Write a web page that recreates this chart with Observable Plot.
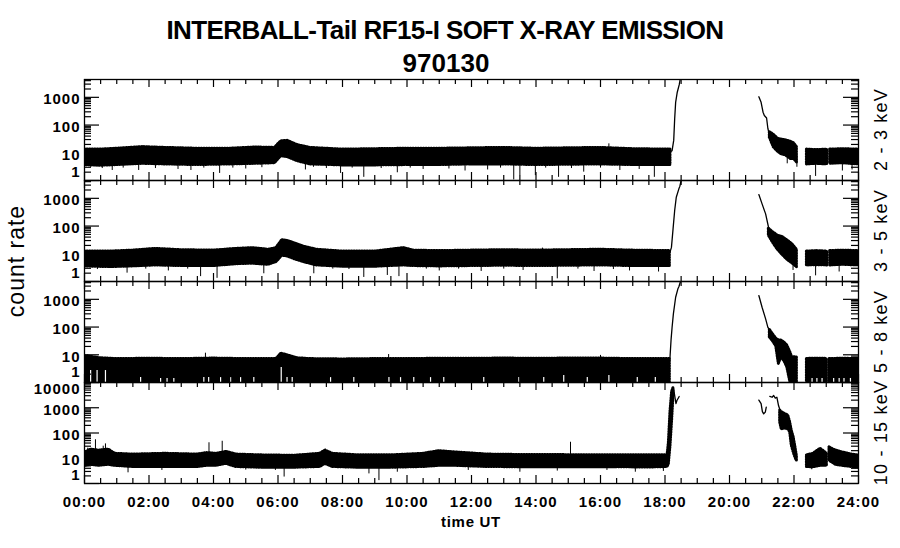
<!DOCTYPE html>
<html><head><meta charset="utf-8">
<script src="https://cdn.jsdelivr.net/npm/d3@7"></script>
<script src="https://cdn.jsdelivr.net/npm/@observablehq/plot@0.6"></script>
<style>
html,body{margin:0;padding:0;background:#fff;}
#chart{position:relative;width:900px;height:548px;overflow:hidden;background:#fff;}
#chart svg{position:absolute;left:0;top:0;}
#chart text{letter-spacing:1px;}
</style></head>
<body><div id="chart"></div>
<script>
// ---------- text ----------
const titleLines = ["INTERBALL-Tail RF15-I SOFT X-RAY EMISSION", "970130"];
const yTitle = "count rate";
const xTitle = "time UT";
const channels = ["2 - 3 keV", "3 - 5 keV", "5 - 8 keV", "10 - 15 keV"];

// ---------- axes ----------
const hours = [0, 2, 4, 6, 8, 10, 12, 14, 16, 18, 20, 22, 24];
const hourLabels = ["00:00","02:00","04:00","06:00","08:00","10:00","12:00","14:00","16:00","18:00","20:00","22:00","24:00"];
const yTop = [4400, 4400, 4400, 10000];
const yMajors = [[1, 10, 100, 1000], [1, 10, 100, 1000], [1, 10, 100, 1000], [1, 10, 100, 1000, 10000]];
const yLabels = [[10, 100, 1000], [10, 100, 1000], [10, 100, 1000], [10, 100, 1000]];

// ---------- data: noise band segments [hour, low, high] ----------
const band1 = [
 [[0,3.6,13],[0.5,3.4,13],[1.0,3.6,14],[1.8,4.0,16],[2.5,3.8,15],[3.5,3.6,14],[4.5,3.8,14],[5.3,4.0,15.5],[5.9,4.2,15],[6.1,7.5,26],[6.3,7.0,27],[6.6,5.0,19],[7.0,3.8,15],[8.0,3.5,13],[9.0,3.5,13.5],[10.0,3.6,14],[11.0,3.6,14],[12.0,3.8,14.5],[13.0,3.8,15],[14.0,3.6,14],[15.0,3.7,14.5],[16.0,3.8,15],[17.0,3.6,13.5],[18.17,3.6,13]],
 [[21.25,35,55],[21.37,16,45],[21.5,11,32],[21.6,9,30],[21.75,8,28],[21.9,6,25],[22.0,6,22],[22.09,4.5,16]],
 [[22.4,3.8,13],[22.7,4,12.5],[23.03,3.8,13]],
 [[23.12,4,13],[23.5,4.2,13.5],[24,3.8,13]]
];
const band2 = [
 [[0,3.5,12],[0.8,3.3,12],[1.5,3.5,13],[2.2,3.8,15],[3.0,3.6,13.5],[4.0,3.6,13],[4.7,4.2,15],[5.2,4.4,16],[5.7,4.0,14],[5.95,5,16],[6.13,8.5,31],[6.3,8,29],[6.5,6.5,24],[6.8,5,18],[7.2,3.8,14],[8.0,3.4,12],[9.0,3.4,12],[9.9,3.8,16],[10.2,3.6,13],[11.0,3.5,12.5],[12.0,3.6,13],[13.0,3.7,13.5],[14.0,3.6,13],[15.0,3.7,13.5],[16.0,3.8,14],[17.0,3.6,13],[18.15,3.6,12.5]],
 [[21.22,45,80],[21.35,25,60],[21.5,14,45],[21.65,9,40],[21.8,6,30],[21.95,4.5,22],[22.09,3.3,14]],
 [[22.4,3.8,12],[22.7,3.9,12.5],[23.03,3.8,12]],
 [[23.12,3.8,12.5],[23.5,4,13],[24,3.8,12.5]]
];
const band3 = [
 [[0,1,9],[0.5,1,7.5],[1,1,7],[2,1,7.2],[3,1,7],[4,1,7.3],[5,1,7],[5.95,1,7],[6.1,1,11],[6.3,1,9.5],[6.6,1,7.5],[7,1,7],[8,1,6.8],[9,1,7],[10,1,7],[11,1,7.2],[12,1,7.2],[13,1,7.3],[14,1,7.2],[15,1,7.3],[16,1,7.3],[17,1,7],[18.15,1,7]],
 [[21.25,43,79],[21.37,28,50],[21.45,20,38],[21.53,4.7,33],[21.6,8,33],[21.7,6,28],[21.79,3.6,21.6],[21.89,1,12],[21.94,1,8.2],[22.09,1,8]],
 [[22.4,1,7.1],[22.7,1,7.2],[23.02,1,7.1]],
 [[23.1,1,7],[23.5,1,7.2],[24,1,7]]
];
const band4 = [
 [[0,5,16],[0.2,5.5,22],[0.45,5,20],[0.75,5.5,22],[0.95,5,15],[1.5,4.5,14],[2.5,4.5,15],[3.5,4.5,14],[3.8,5,16],[4.1,5,15],[4.4,6,18],[4.7,4.5,14],[5.5,4.2,13],[6.5,4.2,12.5],[7.3,4.5,15],[7.47,6,20],[7.7,4.5,15],[8.5,4.2,13],[9.5,4.2,13],[10.5,4.5,15],[11.0,5,19],[11.5,5,17],[12.5,4.5,14],[13.5,4.4,13.5],[14.5,4.4,13.5],[15.5,4.4,13],[16.5,4.4,13],[17.5,4.3,13],[18.08,4.5,13],[18.12,6,40],[18.17,30,700],[18.22,300,4200],[18.26,2500,5900]],
 [[21.57,270,780],[21.62,140,670],[21.72,150,560],[21.82,140,500],[21.88,110,270],[21.93,32,125],[21.99,17,68],[22.05,10,25],[22.09,8,12]],
 [[22.4,4.5,13],[22.6,4.4,15],[22.82,5,23.6],[22.95,5,18],[23.02,5,15]],
 [[23.1,8,27],[23.3,5.5,20],[23.5,5,17],[23.8,4.5,14],[24,4.4,12.8]]
];

// ---------- data: single traces (rise / decay) [hour, count rate] ----------
const line1 = [
 [[18.17,11],[18.22,12],[18.27,28],[18.30,170],[18.33,660],[18.38,1530],[18.44,2800],[18.47,4400]],
 [[20.91,1050],[20.98,660],[21.04,290],[21.08,220],[21.15,180],[21.19,75],[21.25,40]]
];
const line2 = [
 [[18.15,11],[18.2,17],[18.25,79],[18.3,365],[18.35,1100],[18.43,2200],[18.46,2700],[18.5,4400]],
 [[20.91,1370],[21.01,630],[21.12,275],[21.22,80]]
];
const line3 = [
 [[18.15,6.5],[18.19,37.6],[18.22,98],[18.26,300],[18.33,1190],[18.4,2400],[18.43,2860],[18.48,4400]],
 [[20.91,1370],[21.01,520],[21.12,197],[21.19,98],[21.25,75]]
];
const line4 = [
 [[18.1,13],[18.15,93],[18.19,780],[18.24,4200],[18.27,5600],[18.3,3000],[18.34,1450],[18.37,1940],[18.44,2800]],
 [[20.91,2000],[20.98,1450],[21.02,700],[21.06,575],[21.11,670],[21.14,1050]],
 [[21.25,2830],[21.32,2600],[21.37,3050],[21.42,2400],[21.47,2600],[21.52,1220],[21.57,780]]
];

// ---------- data: isolated spikes [hour, from, to] ----------
const spikes1 = [[0.19,3,6],[0.55,2.7,6],[0.86,2.3,6],[1.2,2.8,6],[1.68,2.3,6],[1.84,8,18],[2.2,2.7,6],[2.9,2.5,6],[3.3,2.3,6],[3.7,2.8,6],[4.19,1.8,6],[4.6,2.8,6],[5.0,2.6,6],[5.5,2.9,6],[6.85,2.4,6],[7.1,3,6],[7.5,2.7,6],[7.94,1.8,6],[8.3,2.8,6],[8.66,1.3,6],[9.2,2.7,6],[9.7,1.9,6],[10.1,2.8,6],[10.5,2.5,6],[11.3,2.6,6],[11.8,2.2,6],[12.5,2.4,6],[12.9,2.8,6],[13.31,1.05,6],[13.5,1.5,6],[13.98,1.5,6],[14.3,2.8,6],[14.7,1.3,6],[15.1,2.7,6],[15.48,2,6],[16.0,2.8,6],[16.26,8,21],[16.6,2.3,6],[17.2,2.5,6],[17.67,1.3,6],[21.79,4,10],[22.09,3,8],[22.67,1.4,6],[23.5,2.2,6],[23.8,2.4,6]];
const spikes2 = [[0.4,2.7,6],[1.32,2,6],[1.9,2.8,6],[2.6,2.4,6],[3.2,2.8,6],[3.6,1.5,6],[4.11,1.3,6],[5.56,1.9,6],[7.11,1.9,6],[7.7,2.8,6],[8.2,2.7,6],[8.66,1.4,6],[9.39,1.65,6],[9.75,1.5,6],[9.95,8,17],[10.6,2.8,6],[11.0,2.4,6],[11.6,2.8,6],[12.3,2.3,6],[13.0,2.8,6],[13.6,2.5,6],[14.2,8,16],[14.66,1.25,6],[15.3,2.8,6],[15.8,2.3,6],[16.4,2.7,6],[16.9,2.4,6],[17.8,2.2,6],[21.97,2.5,8],[22.67,1.6,6],[23.4,2.2,6]];
const spikes3 = [[0.1,5,10],[3.75,5,11.4],[9.43,5,10.2],[16.0,5,9.5]];
const spikes4 = [[0.1,8,25],[0.34,8,54],[0.58,8,30],[0.65,8,37],[1.35,2.65,8],[2.4,3.3,8],[3.86,8,41],[4.27,8,47],[5.0,3.4,8],[5.92,3.3,8],[6.19,1.8,8],[7.47,8,23],[8.82,2.4,8],[9.13,1.3,8],[9.7,2.8,8],[11.9,3.3,8],[13.5,2.8,8],[14.66,3.1,8],[15.07,8,43],[16.2,3.3,8],[17.08,2.8,8],[17.95,3,8],[22.55,3.5,8]];
// gaps (zero counts) rising from the floor in 5-8 keV [hour, top]
const gaps3 = [[0.19,2.7],[0.39,2.7],[0.65,2.7],[1.74,1.5],[2.36,1.4],[2.56,1.4],[2.77,1.4],[3.7,1.5],[3.85,1.5],[4.22,1.5],[4.53,1.5],[4.84,1.5],[5.25,1.5],[6.1,3.5],[6.28,1.5],[6.44,1.5],[7.63,1.5],[8.35,1.5],[9.44,1.5],[9.8,1.5],[10.21,1.5],[10.73,1.5],[11.14,1.5],[12.38,1.5],[13.47,1.5],[14.24,1.5],[14.86,1.8],[15.59,1.5],[16.26,1.8],[17.14,1.5],[17.7,1.5],[22.56,1.4],[22.71,1.4],[22.87,1.4],[23.23,1.4],[23.4,1.4],[23.55,1.4],[23.75,1.4]];
const gaps = [[], [], gaps3, []];

const bands = [band1, band2, band3, band4];
const lines = [line1, line2, line3, line4];
const spikes = [spikes1, spikes2, spikes3, spikes4];

// ---------- layout ----------
const W = 900, H = 548;
const mLeft = 84, mRight = 42;
const panelTop = [79, 180, 281, 382];
const panelH = 101;
const innerW = W - mLeft - mRight;
const FONT = "'Liberation Sans', Arial, Helvetica, sans-serif";
const oneLabelDy = [-8, -8, -10, -8];

const xMinor = d3.range(0.5, 24, 0.5).filter(h => h % 2 !== 0);

function flatBand(segs) { return segs.flatMap((s, i) => s.map(([t, a, b]) => ({seg: i, t, a, b}))); }
function flatLine(segs) { return segs.flatMap((s, i) => s.map(([t, v]) => ({seg: i, t, v}))); }

const chart = document.getElementById("chart");

function panel(i) {
  const top = panelTop[i];
  const majors = yMajors[i];
  const minors = majors.flatMap(m => d3.range(2, 10).map(k => k * m)).filter(v => v < yTop[i]);
  const tk = {stroke: "black", strokeWidth: 1.2};
  const lab = {anchor: "left", tickSize: 0, tickPadding: 4, label: null, tickFormat: d => String(d)};
  const marks = [
    Plot.areaY(flatBand(bands[i]), {x: "t", y1: "a", y2: "b", z: "seg", fill: "black", clip: true}),
    Plot.areaY(flatBand(bands[i]), {x: "t", y1: "a", y2: "b", z: "seg", fill: "none", stroke: "black", strokeWidth: 3, strokeDasharray: "1,1.6", clip: true}),
    Plot.ruleX(spikes[i].map(([t, a, b]) => ({t, a, b})), {x: "t", y1: "a", y2: "b", stroke: "black", strokeWidth: 1, clip: true}),
    Plot.ruleX(gaps[i].map(([t, b]) => ({t, b})), {x: "t", y1: 1, y2: "b", stroke: "white", strokeWidth: 1.2, clip: true}),
    Plot.line(flatLine(lines[i]), {x: "t", y: "v", z: "seg", stroke: "black", strokeWidth: 1.3, clip: true}),
    Plot.tickY(majors, {y: d => d, insetRight: innerW - 15, ...tk}),
    Plot.tickY(majors, {y: d => d, insetLeft: innerW - 15, ...tk}),
    Plot.tickY(minors, {y: d => d, insetRight: innerW - 7, ...tk}),
    Plot.tickY(minors, {y: d => d, insetLeft: innerW - 7, ...tk}),
    Plot.tickX(hours, {x: d => d, insetBottom: panelH - 8, ...tk}),
    Plot.tickX(hours, {x: d => d, insetTop: panelH - 8, ...tk}),
    Plot.tickX(xMinor, {x: d => d, insetBottom: panelH - 5, ...tk}),
    Plot.tickX(xMinor, {x: d => d, insetTop: panelH - 5, ...tk}),
    Plot.frame({stroke: "black", strokeWidth: 1.3}),
    Plot.axisY(yLabels[i], {...lab, dy: 2}),
    Plot.axisY([1], {...lab, dy: oneLabelDy[i]})
  ];
  if (i === 3) {
    marks.push(Plot.axisY([10000], {...lab, dy: 7}));
    marks.push(Plot.axisX(hours, {anchor: "bottom", tickSize: 0, tickPadding: 13, label: null, tickFormat: d => hourLabels[hours.indexOf(d)]}));
  }
  return Plot.plot({
    width: W, height: H,
    marginLeft: mLeft, marginRight: mRight,
    marginTop: top, marginBottom: H - top - panelH,
    x: {domain: [0, 24], axis: null, label: null},
    y: {type: "log", domain: [1, yTop[i]], axis: null, label: null},
    style: {background: "transparent", fontFamily: FONT, fontSize: "15px", fontWeight: "bold", color: "black", overflow: "visible"},
    marks
  });
}

for (let i = 0; i < 4; i++) chart.appendChild(panel(i));

// ---------- titles and side labels ----------
const over = d3.create("svg").attr("width", W).attr("height", H).style("font-family", FONT).style("pointer-events", "none");
over.append("text").attr("x", 445).attr("y", 39).attr("text-anchor", "middle")
  .attr("font-size", 26).attr("font-weight", "bold").style("letter-spacing", "-0.6px").text(titleLines[0]);
over.append("text").attr("x", 446).attr("y", 72).attr("text-anchor", "middle")
  .attr("font-size", 26).attr("font-weight", "bold").style("letter-spacing", "0px").text(titleLines[1]);
over.append("text").attr("transform", "translate(24,261) rotate(-90)").attr("text-anchor", "middle")
  .attr("font-size", 23).text(yTitle);
over.append("text").attr("x", 471).attr("y", 527).attr("text-anchor", "middle")
  .attr("font-size", 15).attr("font-weight", "bold").style("letter-spacing", "0.7px").text(xTitle);
channels.forEach((c, i) => {
  over.append("text")
    .attr("transform", `translate(${W - mRight + 29},${panelTop[i] + panelH / 2}) rotate(-90)`)
    .attr("text-anchor", "middle").attr("font-size", 18).style("letter-spacing", "1.2px").text(c);
});
chart.appendChild(over.node());
</script></body></html>
